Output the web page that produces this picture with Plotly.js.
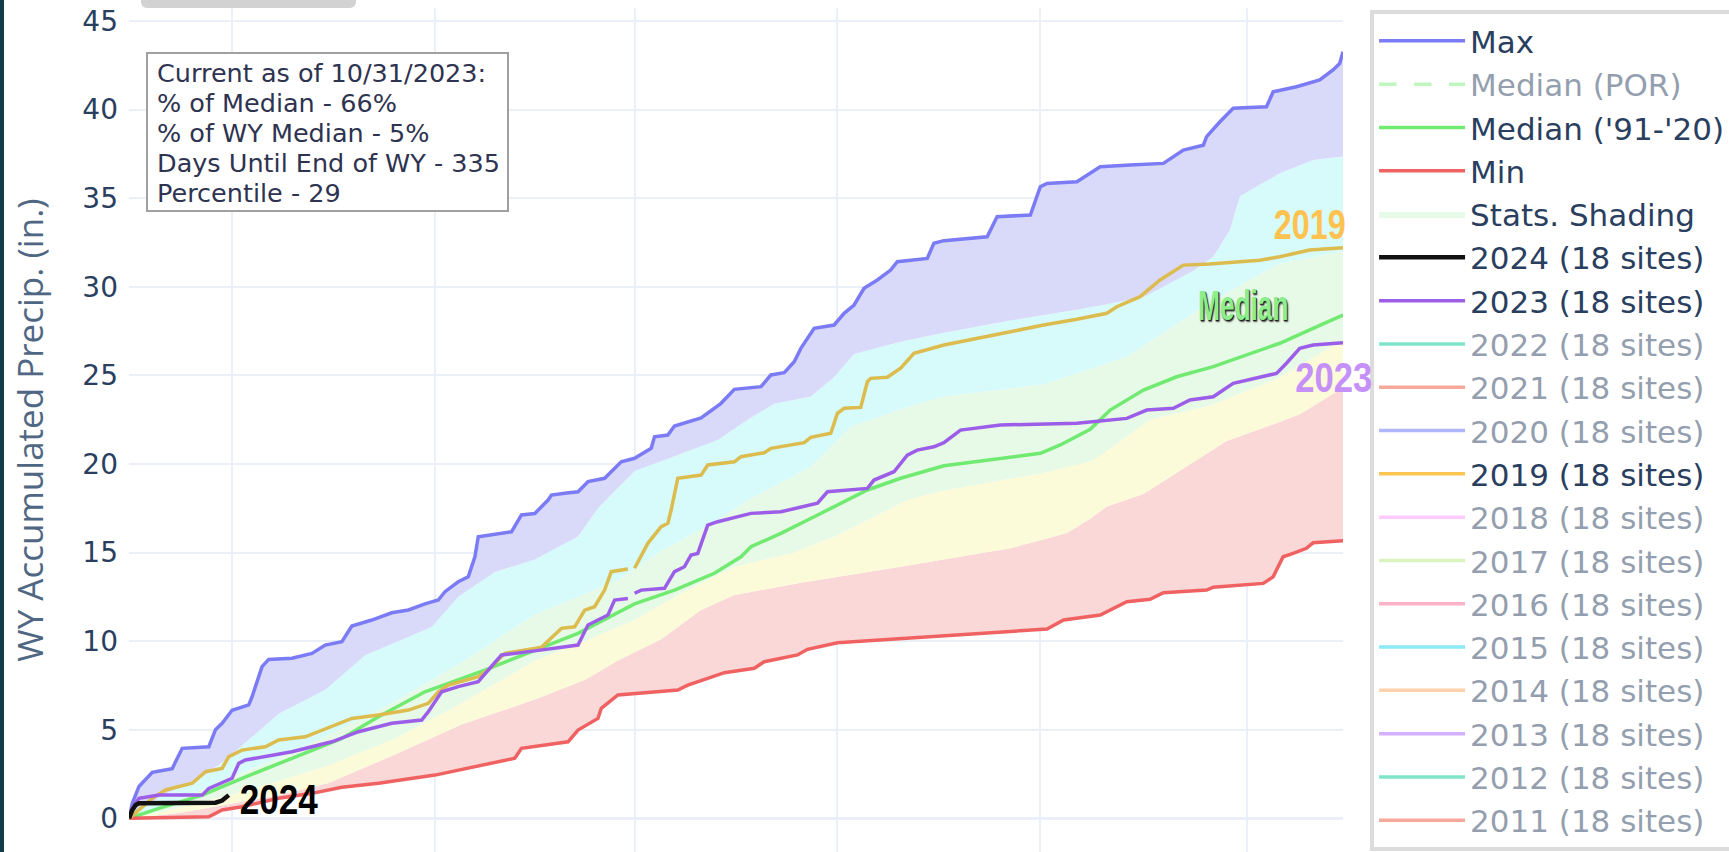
<!DOCTYPE html>
<html>
<head>
<meta charset="utf-8">
<script src="https://cdn.plot.ly/plotly-3.0.1.min.js"></script>
<style>
  html, body { margin: 0; padding: 0; background: #ffffff; overflow: hidden; }
  #chart { position: absolute; left: 0; top: 0; width: 1729px; height: 852px; }
  #leftbar { position: absolute; left: 0; top: 0; width: 4px; height: 852px; background: #123c4a; z-index: 5; }
  #topbtn { position: absolute; left: 141px; top: 0; width: 215px; height: 8px; background: #d2d2d2; border-radius: 0 0 6px 6px; z-index: 5; }
</style>
</head>
<body>
<div id="chart"></div>
<div id="leftbar"></div>
<div id="topbtn"></div>
<script>
// ---- Data (day index of water year starting Oct 1, value in inches) ----
const maxDay = [0,1,3,7,10,13,14,16,24,26,28,31,36,37,40,42,49,55,59,64,67,73,79,84,89,93,95,99,102,104,105,109,115,118,122,126,127,131,135,138,143,148,152,157,158,162,164,172,178,182,190,193,197,200,202,206,212,215,218,221,225,229,231,240,242,245,258,261,271,274,276,285,292,301,311,317,323,324,328,332,342,344,351,358,362,364,365];
const maxVal = [0,0.85,1.8,2.6,2.7,2.8,3.19,3.95,4.04,5.0,5.36,6.1,6.4,6.86,8.56,8.97,9.03,9.31,9.78,9.97,10.85,11.19,11.6,11.76,12.1,12.32,12.79,13.35,13.63,14.76,15.89,15.99,16.17,17.12,17.2,17.96,18.24,18.34,18.43,19.0,19.19,20.12,20.32,20.88,21.53,21.63,22.14,22.6,23.42,24.21,24.36,25.02,25.15,25.77,26.52,27.65,27.84,28.5,28.97,29.91,30.38,30.94,31.41,31.6,32.45,32.6,32.82,33.95,34.05,35.64,35.83,35.93,36.77,36.87,36.96,37.71,37.99,38.47,39.31,40.07,40.16,41.0,41.29,41.67,42.23,42.6,43.26];

const minDay = [0,24,28,34,45,55,64,75,92,99,109,116,118,122,132,135,141,142,147,165,168,174,179,188,191,201,204,213,245,263,276,281,292,300,307,311,324,326,341,344,347,350,354,356,365];
const minVal = [0,0.09,0.47,0.65,1.13,1.41,1.75,1.98,2.44,2.73,3.1,3.39,3.95,4.05,4.32,4.98,5.64,6.21,6.96,7.24,7.52,7.9,8.22,8.47,8.84,9.22,9.54,9.91,10.3,10.53,10.68,11.19,11.47,12.22,12.36,12.73,12.88,13.04,13.26,13.63,14.76,14.95,15.24,15.55,15.67];

const medDay = [0,9,22,34,49,64,75,89,107,122,135,152,164,176,184,187,196,206,216,222,232,245,274,280,289,295,305,315,326,336,346,356,365];
const medVal = [0,0.56,1.31,2.26,3.39,4.51,5.73,7.14,8.37,9.5,10.44,12.1,12.88,13.83,14.76,15.33,16.08,17.02,17.96,18.53,19.19,19.9,20.6,21.07,21.95,23.04,24.17,24.92,25.49,26.15,26.81,27.65,28.4];

const p10Day = [0,15,30,45,60,80,100,122,137,147,160,172,182,202,232,245,265,282,289,294,305,315,330,345,352,365];
const p10Val = [0,0.3,0.8,1.3,2.0,3.6,5.3,6.7,7.8,8.9,10.1,11.75,12.6,13.3,14.2,14.6,15.24,16.1,16.9,17.6,18.3,19.5,21.3,22.3,22.8,24.3];

const p30Day = [0,15,30,45,60,80,100,122,137,152,167,182,200,212,234,245,275,290,307,325,345,365];
const p30Val = [0,0.6,1.3,2.1,3.0,4.5,6.5,8.9,10.0,11.2,12.8,14.2,15.0,15.9,17.96,18.5,19.5,20.2,22.5,23.3,24.8,27.0];

const p70Day = [0,15,30,45,60,80,100,122,135,147,160,177,186,205,217,237,245,275,300,315,335,346,365];
const p70Val = [0,1.0,2.3,3.4,4.7,6.6,8.8,11.5,12.5,13.45,15.1,16.8,17.96,19.84,22.1,23.4,23.8,24.5,26.05,27.9,30.2,31.3,32.0];

const p90Day = [0,10,22,29,45,59,71,91,99,110,122,135,141,152,165,177,186,194,205,212,218,232,245,265,285,305,320,326,331,334,346,356,365];
const p90Val = [0,1.3,2.35,3.3,5.9,7.25,9.2,10.8,12.5,13.9,14.6,15.9,17.5,19.6,20.5,21.35,22.5,23.4,23.8,24.9,26.2,26.9,27.4,28.1,28.7,29.4,30.9,31.7,33.2,35.1,36.4,37.15,37.35];

const y2019Day = [0,7,11,19,23,28,30,34,41,45,53,61,67,75,84,90,93,96,105,108,113,122,124,130,134,137,140,143,145,150,151,152,156,160,162,163,165,172,174,182,184,191,193,203,205,211,213,215,220,222,223,228,232,236,240,245,265,275,285,294,297,304,310,317,325,340,346,355,365];
const y2019Val = [0,1.13,1.6,1.98,2.63,2.82,3.48,3.85,4.04,4.42,4.6,5.17,5.64,5.83,6.11,6.49,7.14,7.52,7.99,8.37,9.31,9.59,9.65,10.72,10.81,11.75,11.94,12.88,13.92,14.07,null,14.11,15.52,16.46,16.65,17.4,19.19,19.37,19.94,20.12,20.41,20.63,20.88,21.2,21.5,21.73,22.86,23.14,23.19,24.64,24.83,24.89,25.4,26.24,26.43,26.71,27.46,27.84,28.16,28.5,28.87,29.44,30.38,31.22,31.28,31.5,31.69,32.07,32.2];

const y2023Day = [0,1,3,9,22,24,31,33,35,49,61,69,79,88,90,94,99,105,108,112,122,135,138,144,146,150,151,152,154,161,164,167,169,171,174,177,187,196,205,207,210,222,224,230,234,237,242,245,250,262,285,300,306,314,319,326,329,332,345,348,352,356,365];
const y2023Val = [0,0.6,1.13,1.31,1.31,1.69,2.26,3.1,3.29,3.76,4.32,4.89,5.36,5.55,6.02,7.14,7.43,7.71,8.37,9.22,9.45,9.78,10.91,11.47,12.32,12.41,null,12.7,12.88,12.98,13.92,14.2,14.86,14.95,16.55,16.74,17.21,17.3,17.68,17.78,18.43,18.62,19.09,19.56,20.5,20.78,20.97,21.2,21.91,22.2,22.29,22.57,23.04,23.14,23.61,23.79,24.17,24.55,25.11,25.68,26.52,26.71,26.84];

const y2024Day = [0,1,2,3,26,28,30];
const y2024Val = [0,0.47,0.75,0.85,0.88,1.0,1.31];

// years shown only in the legend (hidden on the plot)
const hiddenYears = ['2022','2021','2020','2018','2017','2016','2015','2014','2013','2012','2011'];
const hiddenColors = ['#00cc96','#EF553B','#636efa','#FF97FF','#B6E880','#FF6692','#19d3f3','#FFA15A','#ab63fa','#00cc96','#EF553B'];

const infoLines = ['Current as of 10/31/2023:','% of Median - 66%','% of WY Median - 5%','Days Until End of WY - 335','Percentile - 29'];

// ---- helpers ----
const base = Date.UTC(2023, 9, 1);
function toDate(d) {
  const t = new Date(base + d * 86400000);
  return t.toISOString().slice(0, 10);
}
function dates(arr) { return arr.map(toDate); }

const mainFont = "Verdana, 'DejaVu Sans', sans-serif";
const labelFont = "'Liberation Sans Narrow', 'Arial Narrow', 'Liberation Sans', Arial, sans-serif";

const traces = [];
// band base and fills
traces.push({x: dates(minDay), y: minVal, mode: 'lines', line: {width: 0, color: 'rgba(0,0,0,0)'}, showlegend: false, hoverinfo: 'skip'});
traces.push({x: dates(p10Day), y: p10Val, mode: 'lines', line: {width: 0, color: 'rgba(0,0,0,0)'}, fill: 'tonexty', fillcolor: '#fad8d8', showlegend: false, hoverinfo: 'skip'});
traces.push({x: dates(p30Day), y: p30Val, mode: 'lines', line: {width: 0, color: 'rgba(0,0,0,0)'}, fill: 'tonexty', fillcolor: '#fbfbd9', showlegend: false, hoverinfo: 'skip'});
traces.push({x: dates(p70Day), y: p70Val, mode: 'lines', line: {width: 0, color: 'rgba(0,0,0,0)'}, fill: 'tonexty', fillcolor: '#e7fae7', name: 'Stats. Shading', legendrank: 5, hoverinfo: 'skip'});
traces.push({x: dates(p90Day), y: p90Val, mode: 'lines', line: {width: 0, color: 'rgba(0,0,0,0)'}, fill: 'tonexty', fillcolor: '#d7fafa', showlegend: false, hoverinfo: 'skip'});
traces.push({x: dates(maxDay), y: maxVal, mode: 'lines', line: {width: 0, color: 'rgba(0,0,0,0)'}, fill: 'tonexty', fillcolor: '#d9d9fa', showlegend: false, hoverinfo: 'skip'});

// lines
traces.push({x: dates(maxDay), y: maxVal, mode: 'lines', name: 'Max', line: {color: '#7b7bf5', width: 3.5}, legendrank: 1});
traces.push({x: [toDate(0)], y: [null], mode: 'lines', name: 'Median (POR)', line: {color: '#80ee80', width: 3.5, dash: 'longdash'}, visible: 'legendonly', legendrank: 2});
traces.push({x: dates(medDay), y: medVal, mode: 'lines', name: "Median ('91-'20)", line: {color: '#70ea70', width: 3.5}, legendrank: 3});
traces.push({x: dates(minDay), y: minVal, mode: 'lines', name: 'Min', line: {color: '#f06262', width: 3.5}, legendrank: 4});
hiddenYears.forEach((yr, i) => {
  const rank = yr === '2022' ? 8 : yr === '2021' ? 9 : yr === '2020' ? 10 : 12 + (2018 - Number(yr));
  traces.push({x: [toDate(0)], y: [null], mode: 'lines', name: yr + ' (18 sites)', line: {color: hiddenColors[i], width: 3.5}, visible: 'legendonly', legendrank: rank});
});
// 2019: plotted line plus its legend swatch (same legend group)
traces.push({x: dates(y2019Day), y: y2019Val, mode: 'lines', name: '2019 (18 sites)', line: {color: '#dcbc4e', width: 3.5}, connectgaps: false, legendgroup: 'y2019', showlegend: false});
traces.push({x: [toDate(0)], y: [null], mode: 'lines', name: '2019 (18 sites)', line: {color: '#fcc450', width: 3.5}, legendgroup: 'y2019', legendrank: 11, hoverinfo: 'skip'});
traces.push({x: dates(y2023Day), y: y2023Val, mode: 'lines', name: '2023 (18 sites)', line: {color: '#9c5ee8', width: 3.5}, connectgaps: false, legendrank: 7});
traces.push({x: dates(y2024Day), y: y2024Val, mode: 'lines', name: '2024 (18 sites)', line: {color: '#111111', width: 4.5}, legendrank: 6});

// info box: one annotation per line inside a rectangle
const infoFont = {family: mainFont, size: 25.5, color: '#2e3350'};
const annotations = infoLines.map((t, i) => ({
  xref: 'paper', yref: 'paper', x: 0.0214, y: 0.9230 - i * 0.03555, xanchor: 'left', yanchor: 'middle',
  text: t, showarrow: false, font: infoFont
}));
const labelDefs = [
  {day: 355, val: 33.5, text: '2019', color: '#ffc24f', w: 72},
  {day: 335.5, val: 28.95, text: 'Median', color: '#8bef8b', w: 90, shadow: '1px 1px 0 #222, 2px 2px 2px #444'},
  {day: 362, val: 24.9, text: '2023', color: '#c590f8', w: 77},
  {day: 45.7, val: 1.04, text: '2024', color: '#000000', w: 78}
];
labelDefs.forEach(l => {
  const f = {family: labelFont, size: 42, color: l.color, weight: 'bold'};
  if (l.shadow) f.shadow = l.shadow;
  annotations.push({x: toDate(l.day), y: l.val, text: l.text, showarrow: false, font: f});
});

const shapes = [
  {type: 'rect', xref: 'paper', yref: 'paper', x0: 0.01483, x1: 0.3122, y0: 0.7595, y1: 0.9467,
   line: {color: '#a0a0a0', width: 2}, fillcolor: '#ffffff', layer: 'above'}
];

const layout = {
  width: 1729, height: 852,
  margin: {l: 129, r: 386, t: 8, b: 0, autoexpand: false},
  paper_bgcolor: '#ffffff', plot_bgcolor: '#ffffff',
  font: {family: mainFont, color: '#2a3f5f'},
  showlegend: true,
  legend: {xref: 'container', yref: 'container', x: 0.7924, xanchor: 'left', y: 0.988, yanchor: 'top',
           bgcolor: '#ffffff', bordercolor: '#dcdcdc', borderwidth: 4,
           font: {family: mainFont, size: 31, color: '#2a3f5f'}, itemwidth: 86, traceorder: 'normal', maxheight: 1200},
  xaxis: {type: 'date', range: [toDate(0), toDate(365)], tick0: '2023-11-01', dtick: 'M2', showticklabels: false,
          showgrid: true, gridcolor: '#EBF0F8', gridwidth: 1.5, zeroline: false, showline: false, ticks: ''},
  yaxis: {range: [-1.90, 45.73], dtick: 5, tick0: 0, showgrid: true, gridcolor: '#EBF0F8', gridwidth: 1.5,
          zeroline: true, zerolinecolor: '#EBF0F8', zerolinewidth: 3, showline: false, ticks: '', ticklabelstandoff: 10,
          tickfont: {family: mainFont, size: 28, color: '#2a3f5f'},
          title: {text: 'WY Accumulated Precip. (in.)', font: {family: "'Open Sans', sans-serif", size: 35, color: '#506784'}, standoff: 28}},
  annotations: annotations,
  shapes: shapes
};

Plotly.newPlot('chart', traces, layout, {displayModeBar: false}).then(gd => {
  // condense the bold chart labels horizontally (like a narrow bold face)
  const widths = {};
  labelDefs.forEach(l => { widths[l.text] = l.w; });
  gd.querySelectorAll('.annotation-text').forEach(el => {
    const t = el.textContent;
    if (widths[t]) {
      el.setAttribute('textLength', widths[t]);
      el.setAttribute('lengthAdjust', 'spacingAndGlyphs');
    }
  });
});
</script>
</body>
</html>
